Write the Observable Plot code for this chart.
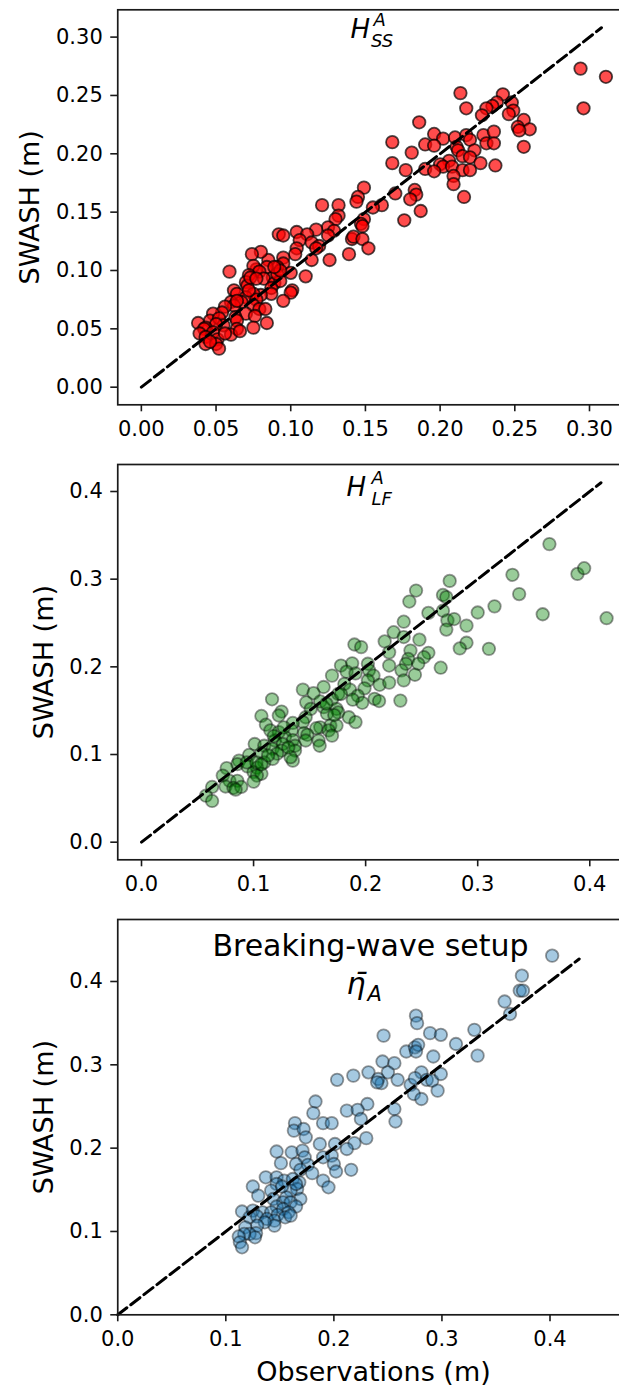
<!DOCTYPE html>
<html>
<head>
<meta charset="utf-8">
<script src="https://cdn.jsdelivr.net/npm/d3@7"></script>
<script src="https://cdn.jsdelivr.net/npm/@observablehq/plot@0.6"></script>
<style>
  html, body { margin: 0; padding: 0; background: white; overflow: hidden; }
  #chart { width: 619px; overflow: hidden; }
</style>
</head>
<body>
<div id="chart"></div>
<script>
// ---------- DATA ----------
// Panel 1: sea-swell wave height H^A_SS  [observation, SWASH]
const ssPoints = [
  [0.294,0.273],[0.311,0.266],[0.296,0.239],
  [0.2136,0.252],[0.2175,0.239],[0.242,0.251],[0.248,0.244],[0.238,0.244],[0.235,0.241],[0.231,0.239],[0.249,0.237],[0.246,0.234],[0.228,0.233],[0.256,0.229],[0.252,0.223],[0.260,0.221],[0.253,0.220],[0.256,0.206],
  [0.186,0.227],[0.196,0.217],[0.202,0.213],[0.210,0.214],[0.2175,0.216],[0.220,0.212],[0.229,0.216],[0.236,0.219],[0.231,0.209],[0.236,0.209],[0.190,0.208],[0.196,0.207],[0.211,0.206],[0.212,0.203],[0.223,0.203],[0.215,0.198],[0.220,0.197],[0.206,0.194],[0.227,0.192],[0.237,0.190],[0.200,0.191],[0.202,0.189],[0.190,0.187],[0.196,0.185],[0.208,0.189],[0.215,0.186],[0.220,0.186],[0.209,0.181],[0.209,0.174],[0.216,0.163],
  [0.168,0.210],[0.168,0.192],[0.181,0.201],[0.177,0.186],[0.170,0.166],[0.183,0.169],[0.184,0.165],[0.180,0.161],[0.187,0.151],[0.176,0.143],
  [0.149,0.171],[0.145,0.163],[0.144,0.159],[0.161,0.156],[0.155,0.154],[0.121,0.156],[0.132,0.156],[0.132,0.147],[0.130,0.144],[0.149,0.144],[0.147,0.140],[0.148,0.138],[0.125,0.137],[0.129,0.134],[0.117,0.135],[0.104,0.133],[0.111,0.131],[0.092,0.131],[0.095,0.130],[0.106,0.126],[0.114,0.124],[0.119,0.121],[0.125,0.130],[0.141,0.127],[0.142,0.129],[0.148,0.127],[0.152,0.119],[0.139,0.114],[0.104,0.119],[0.103,0.114],[0.117,0.119],[0.114,0.109],[0.126,0.109],[0.110,0.095],
  [0.095,0.111],[0.095,0.106],[0.100,0.098],[0.091,0.103],[0.088,0.094],[0.085,0.109],[0.080,0.116],[0.074,0.114],[0.084,0.103],[0.077,0.101],[0.075,0.104],[0.079,0.099],[0.072,0.096],[0.082,0.093],[0.089,0.089],[0.093,0.091],[0.087,0.085],[0.087,0.080],[0.101,0.083],[0.100,0.081],[0.095,0.074],
  [0.059,0.099],[0.070,0.090],[0.071,0.087],[0.062,0.083],[0.064,0.080],[0.080,0.079],[0.075,0.080],[0.070,0.077],[0.077,0.075],[0.060,0.073],[0.067,0.073],[0.075,0.070],[0.079,0.067],[0.083,0.067],[0.062,0.070],[0.056,0.069],[0.070,0.063],[0.063,0.060],[0.076,0.061],[0.064,0.057],[0.054,0.064],[0.048,0.063],[0.046,0.057],[0.052,0.059],[0.064,0.050],[0.075,0.051],[0.084,0.055],[0.055,0.053],[0.050,0.054],[0.038,0.055],[0.043,0.051],[0.042,0.050],[0.048,0.047],[0.039,0.046],[0.060,0.045],[0.043,0.043],[0.051,0.041],[0.043,0.037],[0.050,0.037],[0.052,0.033],[0.046,0.039],[0.056,0.046],[0.066,0.048],
  [0.073,0.094],[0.077,0.093],[0.091,0.097],[0.093,0.100],[0.089,0.103],[0.064,0.074],[0.072,0.083]
];
// Panel 2: low-frequency wave height H^A_LF  [observation, SWASH]
const lfPoints = [
  [0.364,0.340],[0.389,0.306],[0.395,0.3125],[0.331,0.305],[0.337,0.283],[0.358,0.260],[0.415,0.2555],[0.315,0.269],[0.300,0.262],[0.310,0.2205],
  [0.275,0.298],[0.269,0.282],[0.272,0.2795],[0.245,0.287],[0.239,0.2745],[0.256,0.2615],[0.269,0.264],[0.273,0.253],[0.279,0.2545],[0.272,0.2425],[0.290,0.247],[0.290,0.2275],[0.284,0.221],
  [0.234,0.2515],[0.225,0.2395],[0.234,0.234],[0.248,0.231],[0.217,0.229],[0.221,0.2165],[0.240,0.2185],[0.256,0.216],[0.252,0.211],[0.238,0.209],[0.236,0.2035],[0.247,0.2035],[0.244,0.191],[0.232,0.196],[0.234,0.1845],[0.267,0.199],[0.221,0.2015],[0.231,0.1615],
  [0.190,0.2255],[0.196,0.2225],[0.178,0.2015],[0.188,0.204],[0.202,0.2035],[0.183,0.1945],[0.191,0.1925],[0.203,0.196],[0.207,0.190],[0.170,0.190],[0.202,0.1845],[0.199,0.1755],[0.2125,0.1795],[0.221,0.182],[0.181,0.1805],[0.186,0.174],[0.1755,0.169],[0.193,0.167],[0.208,0.1635],[0.212,0.161],[0.197,0.159],[0.1885,0.1625],
  [0.144,0.174],[0.1625,0.177],[0.1535,0.170],[0.170,0.163],[0.147,0.1595],[0.1595,0.1605],[0.1625,0.154],[0.151,0.152],[0.174,0.152],[0.1755,0.148],[0.1655,0.1465],[0.185,0.1425],[0.191,0.137],[0.1685,0.133],[0.174,0.133],[0.1595,0.131],[0.156,0.130],[0.167,0.1275],[0.170,0.1215],
  [0.1165,0.163],[0.125,0.149],[0.1225,0.1445],[0.107,0.144],[0.1465,0.1425],[0.144,0.137],[0.135,0.136],[0.111,0.134],[0.115,0.1275],[0.1225,0.1255],[0.134,0.1275],[0.145,0.1245],[0.148,0.1225],[0.128,0.120],[0.119,0.116],[0.135,0.1165],[0.1465,0.116],[0.158,0.116],[0.159,0.110],[0.137,0.110],
  [0.101,0.112],[0.1095,0.110],[0.126,0.112],[0.117,0.1065],[0.125,0.1045],[0.137,0.1045],[0.107,0.1015],[0.121,0.101],[0.117,0.095],[0.135,0.093],[0.133,0.097],[0.1095,0.091],[0.096,0.0995],[0.087,0.093],[0.0855,0.089],[0.0945,0.0865],[0.103,0.085],[0.100,0.080],[0.107,0.078],[0.103,0.076],
  [0.076,0.0845],[0.0725,0.076],[0.100,0.069],[0.0785,0.070],[0.0855,0.070],[0.075,0.0635],[0.082,0.062],[0.089,0.063],[0.084,0.060],[0.063,0.063],[0.0575,0.053],[0.063,0.047],[0.094,0.091],[0.1025,0.091],[0.107,0.089],
  [0.118,0.121],[0.127,0.131],[0.131,0.108],[0.113,0.099],[0.165,0.158],[0.178,0.169],[0.172,0.145]
];
// Panel 3: breaking-wave setup  [observation, SWASH]
const setupPoints = [
  [0.402,0.431],[0.374,0.407],[0.372,0.389],[0.375,0.389],[0.358,0.376],[0.363,0.361],[0.330,0.342],[0.333,0.311],[0.313,0.325],[0.289,0.338],[0.299,0.336],
  [0.276,0.359],[0.277,0.350],[0.246,0.335],[0.267,0.316],[0.275,0.321],[0.278,0.324],[0.276,0.316],[0.292,0.310],[0.245,0.304],[0.256,0.302],[0.250,0.291],[0.232,0.291],[0.218,0.287],[0.203,0.282],[0.241,0.283],[0.244,0.278],[0.240,0.279],[0.259,0.282],[0.281,0.291],[0.286,0.282],[0.291,0.281],[0.299,0.289],[0.271,0.276],[0.274,0.265],[0.281,0.259],[0.296,0.269],[0.275,0.284],
  [0.231,0.253],[0.212,0.245],[0.222,0.246],[0.225,0.235],[0.256,0.247],[0.257,0.232],[0.183,0.256],[0.181,0.242],[0.164,0.230],[0.163,0.221],[0.172,0.223],[0.190,0.230],[0.198,0.230],[0.174,0.213],[0.187,0.205],[0.201,0.205],[0.219,0.206],[0.230,0.212],[0.212,0.199],
  [0.147,0.196],[0.151,0.182],[0.161,0.195],[0.171,0.197],[0.173,0.189],[0.165,0.181],[0.176,0.180],[0.169,0.174],[0.180,0.170],[0.190,0.189],[0.198,0.191],[0.200,0.181],[0.202,0.172],[0.216,0.174],[0.190,0.161],[0.195,0.153],
  [0.137,0.165],[0.147,0.165],[0.154,0.161],[0.162,0.163],[0.168,0.159],[0.166,0.151],[0.160,0.149],[0.147,0.157],[0.142,0.149],[0.125,0.154],[0.130,0.143],[0.156,0.141],[0.169,0.139],[0.144,0.139],[0.153,0.135],[0.160,0.135],[0.165,0.130],[0.147,0.130],[0.153,0.127],[0.158,0.123],
  [0.115,0.124],[0.125,0.125],[0.134,0.123],[0.142,0.123],[0.148,0.120],[0.122,0.117],[0.129,0.118],[0.138,0.115],[0.145,0.113],[0.155,0.117],[0.160,0.119],[0.145,0.107],[0.136,0.111],[0.129,0.107],[0.118,0.105],[0.128,0.098],[0.122,0.097],[0.127,0.093],[0.117,0.097],[0.112,0.094],[0.113,0.087],[0.115,0.081],
  [0.152,0.154],[0.165,0.157]
];
// 1:1 reference line end (observation = SWASH)
const lineEnds = [0.308, 0.41, 0.427];
// Ticks
const ssTicks = [0, 0.05, 0.10, 0.15, 0.20, 0.25, 0.30];
const lfTicks = [0, 0.1, 0.2, 0.3, 0.4];
const setupTicks = [0, 0.1, 0.2, 0.3, 0.4];
// Texts
const yLabel = "SWASH (m)";
const xLabel = "Observations (m)";
const ssTitle = ["H", "A", "SS"];
const lfTitle = ["H", "A", "LF"];
const setupTitle = ["Breaking-wave setup", "\u03B7\u0304", "A"];

// ---------- DRAW ----------
const ML = 117.25;
const FONT = "DejaVu Sans";

function panel(o) {
  const lineData = [[0, 0], [o.lineEnd, o.lineEnd]];
  const fmt = d3.format(o.fmt);
  const marks = [
    Plot.dot(o.points, {
      x: d => d[0], y: d => d[1], r: 6.25,
      fill: o.fill, fillOpacity: o.alpha,
      stroke: "black", strokeOpacity: o.alpha, strokeWidth: 1.8
    }),
    Plot.line(lineData, {
      x: d => d[0], y: d => d[1],
      stroke: "black", strokeWidth: 3, strokeDasharray: "11.5,5"
    }),
    Plot.frame({stroke: "#1a1a1a", strokeWidth: 1.7}),
    Plot.axisX({ticks: o.ticks, tickFormat: () => "", tickSize: 7, label: null,
      stroke: "#1a1a1a", strokeWidth: 1.6}),
    Plot.axisY({ticks: o.ticks, tickFormat: () => "", tickSize: 7, label: null,
      stroke: "#1a1a1a", strokeWidth: 1.6}),
    // tick labels
    Plot.text(o.ticks, {
      x: d => d, text: d => fmt(d), frameAnchor: "bottom", lineAnchor: "top",
      textAnchor: "middle", dy: 16.5, fontSize: 21, fill: "black"
    }),
    Plot.text(o.ticks, {
      y: d => d, text: d => fmt(d), frameAnchor: "left", lineAnchor: "middle",
      textAnchor: "end", dx: -15, fontSize: 21, fill: "black"
    }),
    Plot.text([yLabel], {
      text: d => d, frameAnchor: "left", rotate: -90, textAnchor: "middle",
      lineAnchor: "middle", dx: o.labelDx, fontSize: 27, fill: "black"
    }),
    ...o.texts.map(t => Plot.text([t.text], {
      text: d => d, frameAnchor: "top-left", textAnchor: t.anchor, lineAnchor: "bottom",
      dx: t.x - ML, dy: t.y - o.mt, fontSize: t.size,
      fontStyle: t.italic ? "italic" : "normal", fill: "black"
    }))
  ];
  return Plot.plot({
    width: 619, height: o.height,
    marginLeft: ML, marginRight: o.mr, marginTop: o.mt, marginBottom: o.mb,
    x: {domain: o.xDomain, label: null},
    y: {domain: o.yDomain, label: null},
    style: {fontFamily: FONT, background: "white", color: "black"},
    marks
  });
}

const chart = document.getElementById("chart");

// Panel 1 (svg top at page y=0)
chart.appendChild(panel({
  points: ssPoints, lineEnd: lineEnds[0], fill: "red", alpha: 0.7,
  ticks: ssTicks, fmt: ".2f",
  xDomain: [-0.0158, 0.3318], yDomain: [-0.0151, 0.3234],
  height: 450, mt: 9.3, mb: 450 - 404.3, mr: 619 - 636.5, labelDx: 29.9 - ML,
  texts: [
    {text: ssTitle[0], x: 350, y: 37, size: 26, anchor: "start", italic: true},
    {text: ssTitle[1], x: 373, y: 25, size: 18, anchor: "start", italic: true},
    {text: ssTitle[2], x: 370.5, y: 46.5, size: 18, anchor: "start", italic: true}
  ]
}));

// Panel 2 (svg top at page y=450)
chart.appendChild(panel({
  points: lfPoints, lineEnd: lineEnds[1], fill: "green", alpha: 0.4,
  ticks: lfTicks, fmt: ".1f",
  xDomain: [-0.0212, 0.445], yDomain: [-0.0201, 0.4308],
  height: 450, mt: 14, mb: 450 - 409.3, mr: 619 - 639.7, labelDx: 43.75 - ML,
  texts: [
    {text: lfTitle[0], x: 346, y: 45, size: 26, anchor: "start", italic: true},
    {text: lfTitle[1], x: 371, y: 33, size: 18, anchor: "start", italic: true},
    {text: lfTitle[2], x: 371, y: 54, size: 18, anchor: "start", italic: true}
  ]
}));

// Panel 3 (svg top at page y=900)
chart.appendChild(panel({
  points: setupPoints, lineEnd: lineEnds[2], fill: "#1f77b4", alpha: 0.4,
  ticks: setupTicks, fmt: ".1f",
  xDomain: [0, 0.4744], yDomain: [0, 0.4744],
  height: 486, mt: 19, mb: 486 - 414.3, mr: 619 - 629.9, labelDx: 43.75 - ML,
  texts: [
    {text: setupTitle[0], x: 370, y: 55, size: 30, anchor: "middle", italic: false},
    {text: setupTitle[1], x: 346, y: 93, size: 30, anchor: "start", italic: true},
    {text: setupTitle[2], x: 367, y: 100, size: 21, anchor: "start", italic: true},
    {text: xLabel, x: 373, y: 480, size: 27, anchor: "middle", italic: false}
  ]
}));
</script>
</body>
</html>
